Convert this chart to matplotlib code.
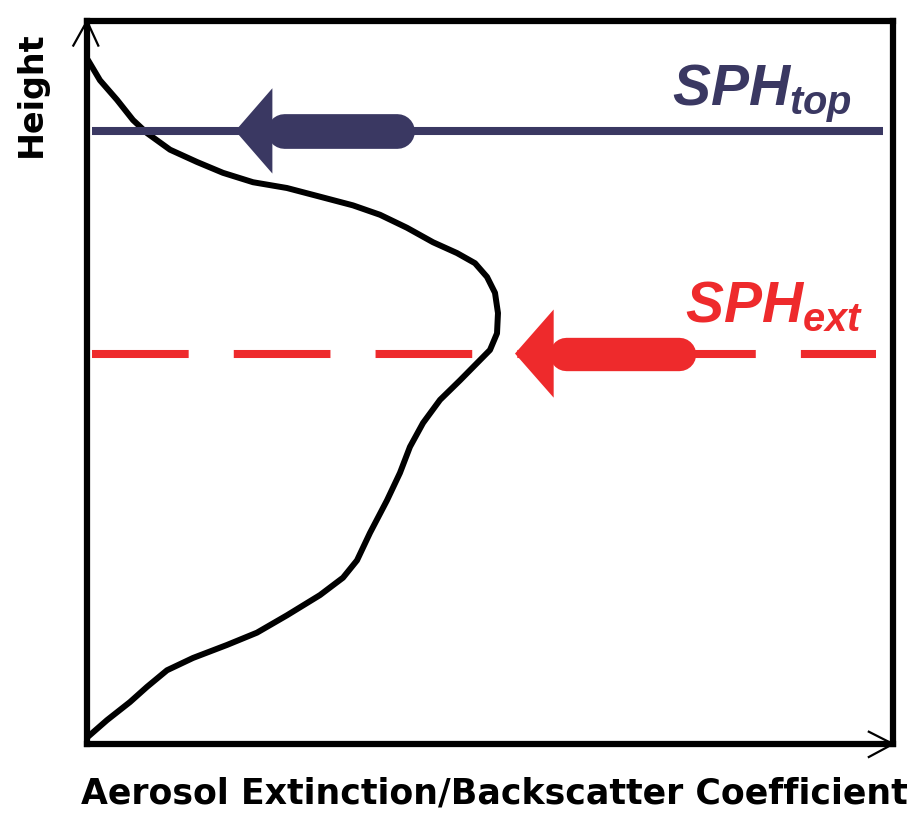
"""Schematic of aerosol profile with SPH_top and SPH_ext levels."""

import matplotlib

matplotlib.use("Agg")
import matplotlib.pyplot as plt
from matplotlib.patches import Polygon

# --- data (normalised units: 0..100 on both axes) ---
profile_x = [0.12, 1.61, 3.72, 5.71, 7.44, 10.30, 13.65, 16.87, 20.60, 24.81,
             28.91, 33.00, 36.35, 39.70, 42.93, 45.91, 48.14, 49.63, 50.62,
             50.99, 50.87, 50.00, 48.76, 46.28, 43.80, 41.69, 40.07, 38.83,
             37.22, 35.11, 33.50, 31.76, 28.91, 24.81, 21.09, 17.37, 13.15,
             9.93, 7.44, 5.33, 2.48, 0.12]
profile_y = [94.6, 91.8, 89.1, 86.3, 84.5, 82.2, 80.5, 79.0, 77.7, 76.9, 75.7,
             74.5, 73.2, 71.4, 69.4, 67.9, 66.5, 64.6, 62.4, 59.6, 56.8, 54.5,
             53.1, 50.3, 47.6, 44.4, 41.1, 37.5, 33.7, 29.2, 25.4, 23.0, 20.6,
             17.8, 15.4, 13.7, 11.9, 10.2, 7.9, 5.8, 3.3, 1.0]

sph_top = 84.8
sph_ext = 54.0

NAVY = "#3a3862"
RED = "#ee2a2c"

plt.rcParams["mathtext.fontset"] = "custom"
plt.rcParams["mathtext.it"] = "Liberation Sans:italic:bold"
plt.rcParams["mathtext.rm"] = "Liberation Sans:bold"

fig = plt.figure(figsize=(9.21, 8.22), dpi=100)
ax = fig.add_axes([87 / 921, 78 / 822, 806 / 921, 723 / 822])
ax.set_xlim(0, 100)
ax.set_ylim(0, 100)
ax.set_xticks([])
ax.set_yticks([])
for spine in ax.spines.values():
    spine.set_linewidth(4.5)
    spine.set_color("black")

# axis arrow heads
ax.plot([-1.7, 0, 1.4], [96.6, 100, 96.6], color="black", lw=1.6, clip_on=False)
ax.plot([97.0, 100, 97.0], [1.7, 0, -1.8], color="black", lw=1.6, clip_on=False)

# profile curve
ax.plot(profile_x, profile_y, color="black", lw=4.3, solid_joinstyle="round",
        solid_capstyle="round")

# SPH_top line
ax.plot([0.6, 98.8], [sph_top, sph_top], color=NAVY, lw=5.8, solid_capstyle="butt")
# SPH_ext dashed line
ax.plot([0.6, 97.9], [sph_ext, sph_ext], color=RED, lw=5.8, dashes=(12, 5.6),
        dash_capstyle="butt")


def fat_arrow(tip, base, tail, y, half, width, color):
    ax.plot([base + 1.5, tail], [y, y], color=color, lw=width,
            solid_capstyle="round")
    ax.add_patch(Polygon([[tip, y], [base, y + half], [base, y - half]],
                         closed=True, color=color, lw=0))


fat_arrow(18.4, 23.0, 38.4, sph_top, 5.9, 25, NAVY)
fat_arrow(53.1, 57.9, 73.5, sph_ext, 6.1, 24, RED)

ax.text(72.6, 88.4, r"$SPH_{top}$", color=NAVY, fontsize=41,
        ha="left", va="baseline")
ax.text(74.2, 58.4, r"$SPH_{ext}$", color=RED, fontsize=41,
        ha="left", va="baseline")

fig.text(494 / 921, 1 - 803 / 822, "Aerosol Extinction/Backscatter Coefficient",
         fontsize=25, fontweight="bold", family="DejaVu Sans",
         ha="center", va="baseline")
fig.text(31 / 921, 1 - 94 / 822, "Height", fontsize=24, fontweight="bold",
         family="DejaVu Sans", rotation=90, ha="center", va="center")

fig.savefig("out.png", dpi=100)
